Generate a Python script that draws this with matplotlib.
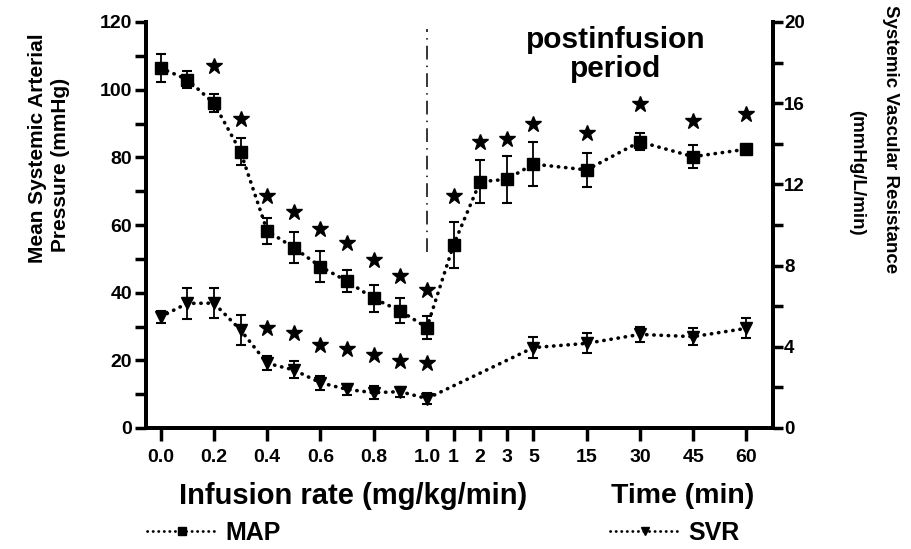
import matplotlib
matplotlib.use('Agg')
import matplotlib.pyplot as plt
from matplotlib.lines import Line2D

plt.rcParams['font.family'] = ['Liberation Sans', 'DejaVu Sans']
plt.rcParams['font.weight'] = 'bold'

# infusion phase (mg/kg/min) and postinfusion phase (min)
rate = [0.0, 0.1, 0.2, 0.3, 0.4, 0.5, 0.6, 0.7, 0.8, 0.9, 1.0]
time_min = [1, 2, 3, 5, 15, 30, 45, 60]
time_slot = [11, 12, 13, 14, 16, 18, 20, 22]   # slots on the broken x axis
svr_time_min = [5, 15, 30, 45, 60]

map_rate = [106.4, 103.0, 96.0, 81.7, 58.3, 53.3, 47.7, 43.4, 38.3, 34.6, 29.7]
map_rate_err = [4.0, 2.5, 2.6, 4.0, 3.8, 4.5, 4.5, 3.3, 4.0, 3.7, 3.5]
map_time = [54.1, 72.8, 73.5, 78.0, 76.3, 84.6, 80.2, 82.4]
map_time_err = [6.7, 6.3, 7.0, 6.5, 5.0, 2.5, 3.3, 0.6]

svr_rate = [5.48, 6.14, 6.15, 4.83, 3.19, 2.86, 2.23, 1.90, 1.74, 1.79, 1.45]
svr_rate_err = [0.30, 0.77, 0.75, 0.72, 0.35, 0.42, 0.35, 0.25, 0.33, 0.25, 0.25]
svr_time = [3.96, 4.17, 4.61, 4.50, 4.91]
svr_time_err = [0.50, 0.50, 0.38, 0.42, 0.50]

# significance stars (y position in axis units)
map_star_rate = [0.2, 0.3, 0.4, 0.5, 0.6, 0.7, 0.8, 0.9, 1.0]
map_star_rate_y = [107, 91.3, 68.6, 63.9, 58.7, 54.6, 49.7, 44.9, 40.8]
map_star_time_y = [68.6, 84.6, 85.3, 90.0, 87.1, 95.8, 90.6, 92.8]
svr_star_rate = [0.4, 0.5, 0.6, 0.7, 0.8, 0.9, 1.0]
svr_star_y = [4.92, 4.70, 4.08, 3.90, 3.60, 3.30, 3.18]

tick_pos = [0, 2, 4, 6, 8, 10, 11, 12, 13, 14, 16, 18, 20, 22]
tick_lab = ['0.0', '0.2', '0.4', '0.6', '0.8', '1.0', '1', '2', '3', '5', '15', '30', '45', '60']

slot = dict(zip(time_min, time_slot))
x_rate = [round(r * 10) for r in rate]
x_map = x_rate + time_slot
x_svr = x_rate + [slot[t] for t in svr_time_min]

dots = dict(linestyle=(0, (0.1, 1.9)), linewidth=2.6, dash_capstyle='round', color='black')

fig = plt.figure(figsize=(9.11, 5.49), dpi=100)
ax = fig.add_axes([146/911, 1 - 428/549, (773-146)/911, (428-22)/549])
ax2 = ax.twinx()

ax.plot(x_map, map_rate + map_time, **dots)
ax.errorbar(x_map, map_rate + map_time, yerr=map_rate_err + map_time_err, fmt='s',
            color='black', ms=8, elinewidth=1.3, capsize=3.5, capthick=1.5)
ax.plot([round(r * 10) for r in map_star_rate] + time_slot, map_star_rate_y + map_star_time_y,
        '*', color='black', ms=12, lw=0)
ax.plot([10, 10], [52, 118], color='black', lw=1.1, linestyle=(0, (9, 4, 1, 4)))
ax.text(17.1, 110.3, 'postinfusion\nperiod', ha='center', va='center', fontsize=21.5,
        linespacing=1.05)

ax2.plot(x_svr, svr_rate + svr_time, **dots)
ax2.errorbar(x_svr, svr_rate + svr_time, yerr=svr_rate_err + svr_time_err, fmt='v',
             color='black', ms=8, elinewidth=1.3, capsize=3.5, capthick=1.5)
ax2.plot([round(r * 10) for r in svr_star_rate], svr_star_y, '*', color='black', ms=12, lw=0)

ax.set_xlim(-0.55, 23.0)
ax.set_ylim(0, 120)
ax2.set_ylim(0, 20)
ax.set_xticks(tick_pos)
ax.set_xticklabels(tick_lab, fontsize=14)
ax.set_yticks(range(0, 121, 20))
ax.set_yticks(range(10, 120, 20), minor=True)
ax.tick_params(axis='y', which='both', length=8, width=2.5, labelsize=14, pad=2)
ax.tick_params(axis='x', length=9, width=2.5, pad=6)
ax2.set_yticks(range(0, 21, 4))
ax2.set_yticks(range(2, 20, 4), minor=True)
ax2.tick_params(axis='y', which='both', length=7, width=2.5, labelsize=13.5, pad=1)

for a in (ax, ax2):
    a.spines['top'].set_visible(False)
    for s in ('left', 'bottom', 'right'):
        a.spines[s].set_linewidth(2.8)

fig.text(38/911, 1 - 148/549, 'Mean Systemic Arterial', rotation=90, ha='center', va='center', fontsize=15)
fig.text(60/911, 1 - 165/549, 'Pressure (mmHg)', rotation=90, ha='center', va='center', fontsize=15)
fig.text(891/911, 1 - 139/549, 'Systemic Vascular Resistance', rotation=270, ha='center', va='center', fontsize=13.5)
fig.text(857/911, 1 - 173/549, '(mmHg/L/min)', rotation=270, ha='center', va='center', fontsize=13.5)

fig.text(353/911, 1 - 496/549, 'Infusion rate (mg/kg/min)', ha='center', va='center', fontsize=21)
fig.text(683/911, 1 - 496/549, 'Time (min)', ha='center', va='center', fontsize=20.5)

h_map = Line2D([], [], marker='s', ms=6, markerfacecolor='black', markeredgecolor='black',
               linestyle=(0, (0.1, 1.9)), lw=2, dash_capstyle='round', color='black')
h_svr = Line2D([], [], marker='v', ms=6, markerfacecolor='black', markeredgecolor='black',
               linestyle=(0, (0.1, 1.9)), lw=2, dash_capstyle='round', color='black')
fig.legend(handles=[h_map], labels=['MAP'], loc='center left', bbox_to_anchor=(147/911, 1 - 533/549),
           frameon=False, fontsize=18, handlelength=2.8, handletextpad=0.35, borderpad=0,
           borderaxespad=0)
fig.legend(handles=[h_svr], labels=['SVR'], loc='center left', bbox_to_anchor=(610/911, 1 - 533/549),
           frameon=False, fontsize=18, handlelength=2.8, handletextpad=0.35, borderpad=0,
           borderaxespad=0)

fig.savefig('out.png', dpi=100)
